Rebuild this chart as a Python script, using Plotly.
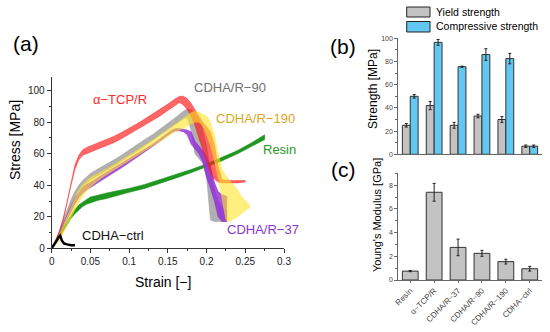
import plotly.graph_objects as go

# ---------------- Panel (a) data: stress-strain bands (lower/upper) ----------------
tcp_strain = [0, 0.005, 0.01, 0.015, 0.02, 0.025, 0.03, 0.035, 0.04, 0.045, 0.05, 0.06, 0.07, 0.08, 0.09, 0.1,
              0.11, 0.12, 0.13, 0.14, 0.15, 0.16, 0.165, 0.17, 0.175, 0.18, 0.185, 0.19, 0.195, 0.2, 0.205,
              0.21, 0.215, 0.22, 0.23, 0.24, 0.25]
tcp_low = [0, 4, 10, 18, 28, 40, 50, 56, 59, 60.5, 61, 63, 65, 67, 69.5, 72, 75, 78, 81, 84, 87.5, 91, 92.5,
           91, 88, 84, 78, 70, 62, 55, 48, 44, 42, 41.5, 41.5, 41.5, 42]
tcp_up = [0, 4.5, 11, 19.5, 30, 42, 53, 59, 62.5, 64, 65, 66.5, 68.5, 71, 73.5, 76, 79, 82, 85, 88, 91.5, 95,
          96.5, 96.5, 95, 92, 88, 84, 80, 77, 74, 66, 52, 43.5, 43, 43, 43]

r90_strain = [0, 0.005, 0.01, 0.015, 0.02, 0.025, 0.03, 0.035, 0.04, 0.045, 0.05, 0.06, 0.07, 0.08, 0.09, 0.1,
              0.11, 0.12, 0.13, 0.14, 0.15, 0.16, 0.17, 0.175, 0.18, 0.185, 0.19, 0.195, 0.2, 0.205, 0.21,
              0.215, 0.22, 0.226]
r90_low = [0, 4, 9, 15, 21, 27, 32, 36, 39, 41.5, 43.5, 46.5, 49, 52, 55, 58.5, 61.5, 65, 68, 71.5, 75, 78.5,
           82, 83, 75, 60, 57, 54, 45, 18, 17, 17, 17, 17]
r90_up = [0, 5, 11, 18, 25, 31, 36, 40, 43, 45.5, 47.5, 50.5, 53, 56, 59, 62.5, 65.5, 69, 72, 75.5, 79, 83,
          87, 88.5, 88, 86, 82, 75, 65, 50, 38, 30, 26, 24]

r37_strain = [0, 0.005, 0.01, 0.015, 0.02, 0.025, 0.03, 0.035, 0.04, 0.045, 0.05, 0.06, 0.07, 0.08, 0.09, 0.1,
              0.11, 0.12, 0.13, 0.14, 0.15, 0.155, 0.16, 0.165, 0.17, 0.175, 0.18, 0.185, 0.19, 0.195, 0.2,
              0.205, 0.21, 0.215, 0.22, 0.226]
r37_low = [0, 3.5, 8, 13, 18, 23, 28, 32, 35, 37, 39, 42, 45, 48, 51, 54, 57.5, 61, 64.5, 68, 71.5, 73.5,
           74.5, 74.5, 74, 72, 66, 63, 60, 55, 45, 38, 30, 20, 17, 17]
r37_up = [0, 4.5, 10, 16, 22, 27, 32, 35.5, 38.5, 40.5, 42, 45, 47.5, 50.5, 53.5, 56.5, 59.5, 63, 66, 69.5,
          73, 75, 76, 76, 75.5, 75, 74, 68, 65, 62, 58, 52, 42, 36, 34, 33]

r190_strain = [0, 0.005, 0.01, 0.015, 0.02, 0.025, 0.03, 0.035, 0.04, 0.045, 0.05, 0.06, 0.07, 0.08, 0.09,
               0.1, 0.11, 0.12, 0.13, 0.14, 0.15, 0.16, 0.17, 0.18, 0.185, 0.19, 0.195, 0.2, 0.205, 0.21,
               0.215, 0.22, 0.225, 0.23, 0.235, 0.24, 0.245, 0.25, 0.256]
r190_low = [0, 2, 5, 9, 14, 19, 24, 29, 33, 36, 39, 43, 46.5, 50, 53, 56, 59, 62, 65, 68, 71, 74, 76, 79, 80,
            80, 78, 72, 65, 56, 45, 32, 18, 17, 18.5, 20, 22, 24, 26]
r190_up = [0, 4, 9, 15, 21, 27, 32, 37, 40.5, 43, 45, 47.5, 50, 53, 56, 59, 62, 65, 68.5, 72, 75.5, 79, 83,
           86, 87, 86.5, 85, 84, 80, 72, 60, 50, 46, 43, 40, 37, 33, 30, 27]

resin_strain = [0, 0.005, 0.01, 0.015, 0.02, 0.025, 0.03, 0.035, 0.04, 0.045, 0.05, 0.06, 0.07, 0.08, 0.09,
                0.1, 0.12, 0.14, 0.16, 0.18, 0.2, 0.22, 0.24, 0.26, 0.275]
resin_low = [0, 3, 7, 11, 15, 19, 22, 24.5, 26.5, 28, 29, 30.5, 31.5, 33, 34, 35.5, 38, 41, 44.5, 48, 51.5,
             55.5, 60, 65, 69]
resin_up = [0, 4, 8.5, 13, 17, 21, 25, 27.5, 29.5, 31, 32.5, 34, 35, 36, 37, 38, 40.5, 43.5, 46.5, 50, 53.5,
            57.5, 62, 67.5, 72]

ctrl_strain = [0, 0.003, 0.006, 0.009, 0.011, 0.013, 0.016, 0.02, 0.025, 0.03]
ctrl_stress = [0, 2, 4.5, 7, 8, 5, 3, 2.5, 2, 2]

# ---------------- Panels (b) and (c) data ----------------
groups = ["Resin", "α−TCP/R", "CDHA/R−37", "CDHA/R−90", "CDHA/R−190", "CDHA−ctrl"]
yield_strength = [25, 42, 25, 33, 30, 7]
yield_err = [1.5, 3.5, 2.5, 1.5, 2.5, 1]
comp_strength = [50, 96.5, 75.5, 86, 82.5, 7]
comp_err = [1.5, 2.5, 0.5, 5, 4.5, 1]
modulus = [0.75, 7.4, 2.75, 2.25, 1.55, 0.95]
modulus_err = [0.05, 0.75, 0.7, 0.25, 0.2, 0.2]

W, H = 550, 332
def px(x):
    return x / W
def py(y):
    return 1 - y / H

fig = go.Figure()

def band(strain, low, up, color):
    fig.add_trace(go.Scatter(
        x=list(strain) + list(strain)[::-1],
        y=list(up) + list(low)[::-1],
        fill="toself", fillcolor=color, line=dict(width=0.6, color=color),
        mode="lines", hoverinfo="skip", showlegend=False, xaxis="x", yaxis="y"))

band(resin_strain, resin_low, resin_up, "rgba(20,145,20,0.95)")
band(r90_strain, r90_low, r90_up, "rgba(150,150,150,0.75)")
band(r37_strain, r37_low, r37_up, "rgba(145,40,215,0.8)")
band(tcp_strain, tcp_low, tcp_up, "rgba(255,20,20,0.65)")
band(r190_strain, r190_low, r190_up, "rgba(255,228,40,0.6)")
fig.add_trace(go.Scatter(x=ctrl_strain, y=ctrl_stress, mode="lines",
                         line=dict(color="black", width=2.5), showlegend=False,
                         xaxis="x", yaxis="y"))

# Panel (b)
fig.add_trace(go.Bar(x=groups, y=yield_strength, name="Yield strength",
                     marker=dict(color="#c3c3c3", line=dict(color="#333", width=1)),
                     error_y=dict(type="data", array=yield_err, color="#222", thickness=1, width=1.5),
                     xaxis="x2", yaxis="y2", showlegend=False))
fig.add_trace(go.Bar(x=groups, y=comp_strength, name="Compressive strength",
                     marker=dict(color="#62c8f2", line=dict(color="#333", width=1)),
                     error_y=dict(type="data", array=comp_err, color="#222", thickness=1, width=1.5),
                     xaxis="x2", yaxis="y2", showlegend=False))

# Panel (c)
fig.add_trace(go.Bar(x=groups, y=modulus, name="Young's Modulus",
                     marker=dict(color="#c3c3c3", line=dict(color="#333", width=1)),
                     error_y=dict(type="data", array=modulus_err, color="#222", thickness=1, width=1.5),
                     xaxis="x3", yaxis="y3", showlegend=False))

font = "Liberation Sans, Arial, sans-serif"
axcol = "#333"

fig.update_layout(
    template="none",
    width=W, height=H, margin=dict(l=0, r=0, t=0, b=0, autoexpand=False),
    paper_bgcolor="white", plot_bgcolor="white",
    font=dict(family=font, color="black"),
    barmode="group", bargap=0.34, bargroupgap=0,
    xaxis=dict(domain=[px(51.7), px(284)], range=[0, 0.3], anchor="y", automargin=False,
               tickvals=[0, 0.05, 0.1, 0.15, 0.2, 0.25, 0.3],
               ticktext=["0", "0.05", "0.1", "0.15", "0.2", "0.25", "0.3"],
               ticks="outside", ticklen=4, tickcolor=axcol, showline=True, linecolor=axcol,
               linewidth=1, showgrid=False, zeroline=False,
               minor=dict(dtick=0.025, ticks="outside", ticklen=2, tickcolor=axcol, showgrid=False),
               tickfont=dict(size=10, color="#222")),
    yaxis=dict(domain=[py(248.3), py(77)], range=[0, 108.7], anchor="x", automargin=False,
               tickvals=[0, 20, 40, 60, 80, 100],
               ticks="outside", ticklen=4, tickcolor=axcol, showline=True, linecolor=axcol,
               linewidth=1, showgrid=False, zeroline=False,
               minor=dict(dtick=10, ticks="outside", ticklen=2, tickcolor=axcol, showgrid=False),
               tickfont=dict(size=10, color="#222")),
    xaxis2=dict(domain=[px(398.3), px(541.7)], range=[-0.5, 5.5], anchor="y2", automargin=False,
                showticklabels=False, ticks="", showline=True, linecolor="#666", linewidth=1,
                showgrid=False, zeroline=False),
    yaxis2=dict(domain=[py(154.3), py(38.3)], range=[0, 100], anchor="x2", automargin=False,
                tickvals=[0, 20, 40, 60, 80, 100], ticks="outside", ticklen=3, tickcolor="#666",
                showline=True, linecolor="#666", linewidth=1, showgrid=False, zeroline=False,
                minor=dict(dtick=10, ticks="outside", ticklen=2, tickcolor="#666", showgrid=False),
                tickfont=dict(size=7, color="#444")),
    xaxis3=dict(domain=[px(398.3), px(541.7)], range=[-0.5, 5.5], anchor="y3", automargin=False,
                tickangle=-45, ticks="outside", ticklen=2, tickcolor="#666",
                showline=True, linecolor="#666", linewidth=1, showgrid=False, zeroline=False,
                tickfont=dict(size=8, color="#444")),
    yaxis3=dict(domain=[py(280), py(173.3)], range=[0, 9], anchor="x3", automargin=False,
                tickvals=[0, 2, 4, 6, 8], ticks="outside", ticklen=3, tickcolor="#666",
                showline=True, linecolor="#666", linewidth=1, showgrid=False, zeroline=False,
                minor=dict(dtick=1, ticks="outside", ticklen=2, tickcolor="#666", showgrid=False),
                tickfont=dict(size=7, color="#444")),
)

ann = []
def text(x, y, t, size, color="black", xanchor="center", angle=0):
    ann.append(dict(x=px(x), y=py(y), xref="paper", yref="paper", text=t, showarrow=False,
                    font=dict(size=size, color=color, family=font), xanchor=xanchor,
                    yanchor="middle", textangle=angle))

# Panel labels
text(26, 44, "(a)", 21)
text(343, 47, "(b)", 21)
text(343, 169, "(c)", 21)
# Axis titles
text(163, 282, "Strain [−]", 14)
text(15, 140, "Stress [MPa]", 14, angle=-90)
text(373, 89, "Strength [MPa]", 12, angle=-90)
text(377, 215, "Young's Modulus [GPa]", 11, angle=-90)
# Curve labels
text(120, 100, "α−TCP/R", 13, "#ff2a2a")
text(230, 88, "CDHA/R−90", 13, "#707070")
text(255, 118, "CDHA/R−190", 13, "#d9a81c")
text(279, 149, "Resin", 13, "#2a9a2a")
text(263, 230, "CDHA/R−37", 13, "#8a35d0")
text(113, 235, "CDHA−ctrl", 13, "#111")
# Legend of panel (b)
text(433.5, 12, "Yield strength", 10.5, xanchor="left")
text(433.5, 26.5, "Compressive strength", 10.5, xanchor="left")
fig.update_layout(annotations=ann)

fig.add_shape(type="rect", xref="paper", yref="paper", x0=px(406.7), x1=px(430), y0=py(17), y1=py(7),
              fillcolor="#c3c3c3", line=dict(color="#222", width=1))
fig.add_shape(type="rect", xref="paper", yref="paper", x0=px(406.7), x1=px(430), y0=py(32), y1=py(21.5),
              fillcolor="#62c8f2", line=dict(color="#222", width=1))

fig.write_html("out.html", config={"displayModeBar": False},
               post_script="document.body.style.margin='0';document.body.style.padding='0';")
